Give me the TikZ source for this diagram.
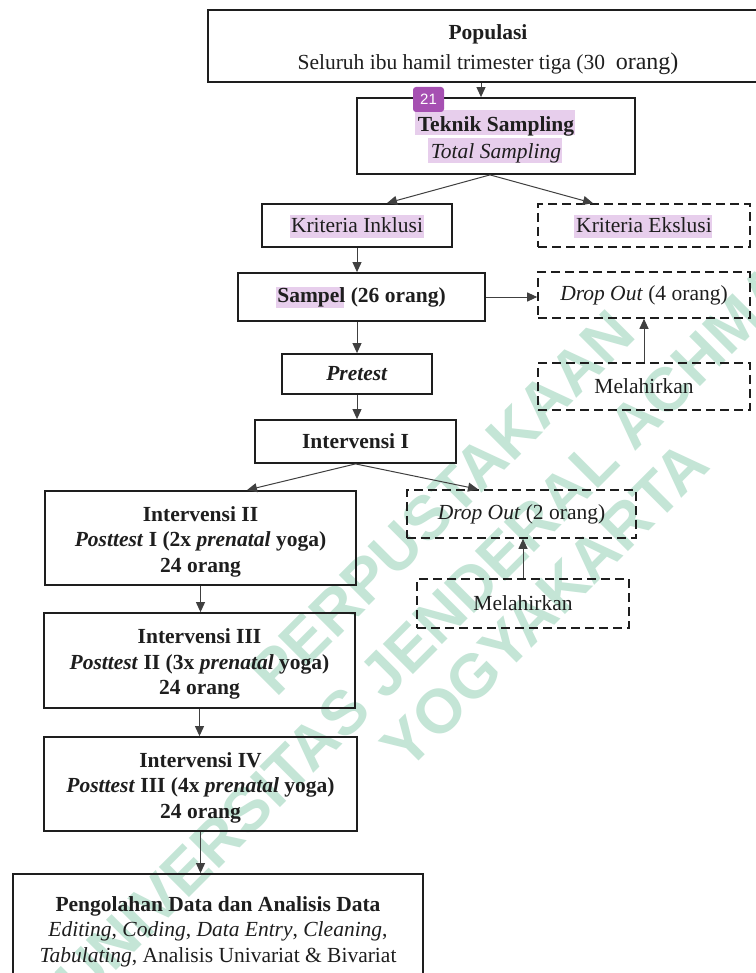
\documentclass[tikz,border=0pt]{standalone}
\usepackage{fontspec}
\setmainfont{Liberation Serif}
\newfontfamily\wmfont{Liberation Sans}
\usetikzlibrary{arrows.meta}
\definecolor{hlcol}{RGB}{231,206,236}
\definecolor{badgecol}{RGB}{166,80,178}
\definecolor{wmcol}{RGB}{196,229,214}
\definecolor{ink}{RGB}{30,30,30}
\newcommand{\topstrut}{\rule{0pt}{22.5pt}}
\begin{document}
\begin{tikzpicture}[x=1pt,y=-1pt,
  every node/.style={font=\fontsize{21.5}{25.5}\selectfont, text=ink},
  box/.style={draw=ink, line width=1.8pt, align=center, inner sep=0pt},
  dbox/.style={box, dash pattern=on 9pt off 5pt, line width=1.6pt},
  arr/.style={draw=ink!85, line width=1pt, -{Triangle[length=10pt,width=9pt]}},
  hl/.style={fill=hlcol, draw=none},
  wmtext/.style={font=\wmfont\bfseries\fontsize{62}{62}\selectfont, text=wmcol, rotate=45, inner sep=0pt}
]
\useasboundingbox (0,0) rectangle (755,973);
\fill[white] (0,0) rectangle (755,973);

% watermark
\node[wmtext] (wm1) at (442.5,502.5) {PERPUSTAKAAN};
\node[wmtext] (wm2) at (497,560) {UNIVERSITAS JENDERAL ACHMAD YANI};
\node[wmtext] (wm3) at (545,605) {YOGYAKARTA};

% highlights
\fill[hl] (415,110) rectangle (575,135);
\fill[hl] (428,138) rectangle (562,163);
\fill[hl] (290,215) rectangle (424,238);
\fill[hl] (574,215) rectangle (712,238);
\fill[hl] (276,287) rectangle (344,308);

% boxes
\node[box, minimum width=560pt, minimum height=72pt] (pop) at (488,46)
  {\topstrut\textbf{Populasi}\\[4pt] Seluruh ibu hamil trimester tiga (30~~{\fontsize{24}{25}\selectfont orang)}};
\node[box, minimum width=278pt, minimum height=76pt] (tek) at (496,136)
  {\topstrut\textbf{Teknik Sampling}\\[1.5pt] \textit{Total Sampling}};
\node[box, minimum width=190pt, minimum height=43pt] (inkl) at (357,225.5) {Kriteria Inklusi};
\node[dbox, minimum width=212pt, minimum height=43pt] (eksl) at (644,225.5) {Kriteria Ekslusi};
\node[box, minimum width=247pt, minimum height=48pt] (samp) at (361.5,297) {\textbf{Sampel (26 orang)}};
\node[dbox, minimum width=212pt, minimum height=46pt] (do1) at (644,295) {\textit{Drop Out} (4 orang)};
\node[dbox, minimum width=212pt, minimum height=47pt] (mel1) at (644,386.5) {Melahirkan};
\node[box, minimum width=150pt, minimum height=40pt] (pre) at (357,374) {\textbf{\textit{Pretest}}};
\node[box, minimum width=201pt, minimum height=43pt] (int1) at (355.5,441.5) {\textbf{Intervensi I}};
\node[box, minimum width=311pt, minimum height=94pt] (int2) at (200.5,538)
  {\topstrut\textbf{Intervensi II}\\ \textbf{\textit{Posttest} I (2x \textit{prenatal} yoga)}\\ \textbf{24 orang}};
\node[dbox, minimum width=229pt, minimum height=48pt] (do2) at (521.5,514) {\textit{Drop Out} (2 orang)};
\node[dbox, minimum width=212pt, minimum height=49pt] (mel2) at (523,603.5) {Melahirkan};
\node[box, minimum width=311pt, minimum height=95pt] (int3) at (199.5,660.5)
  {\topstrut\textbf{Intervensi III}\\ \textbf{\textit{Posttest} II (3x \textit{prenatal} yoga)}\\ \textbf{24 orang}};
\node[box, minimum width=313pt, minimum height=94pt] (int4) at (200.5,784)
  {\topstrut\textbf{Intervensi IV}\\ \textbf{\textit{Posttest} III (4x \textit{prenatal} yoga)}\\ \textbf{24 orang}};
\node[box, minimum width=410pt, minimum height=108pt] (peng) at (218,928)
  {\topstrut\textbf{Pengolahan Data dan Analisis Data}\\ \textit{Editing}, \textit{Coding}, \textit{Data Entry}, \textit{Cleaning},\\ \textit{Tabulating}, Analisis Univariat \& Bivariat};

% connectors
\draw[arr] ([xshift=-7pt]pop.south) -- ([xshift=-7pt]pop.south |- tek.north);
\draw[arr] ([xshift=-6pt]tek.south) -- ([xshift=30pt]inkl.north);
\draw[arr] ([xshift=-6pt]tek.south) -- ([xshift=-51pt]eksl.north);
\draw[arr] (inkl.south) -- (inkl.south |- samp.north);
\draw[arr] (samp.east) -- (samp.east -| do1.west);
\draw[arr] (mel1.north) -- (do1.south);
\draw[arr] (pre.north |- samp.south) -- (pre.north);
\draw[arr] (pre.south) -- (pre.south |- int1.north);
\draw[arr] (int1.south) -- ([xshift=46.5pt]int2.north);
\draw[arr] (int1.south) -- ([xshift=-43.5pt]do2.north);
\draw[arr] (mel2.north) -- (mel2.north |- do2.south);
\draw[arr] (int2.south) -- (int2.south |- int3.north);
\draw[arr] (int3.south) -- (int3.south |- int4.north);
\draw[arr] (int4.south) -- (int4.south |- peng.north);

% page marker badge
\node[fill=badgecol, rounded corners=3pt, minimum width=31pt, minimum height=25pt, inner sep=0pt,
      text=white, font=\wmfont\fontsize{15}{15}\selectfont] (badge) at (428.5,99.5) {21};
\end{tikzpicture}
\end{document}
